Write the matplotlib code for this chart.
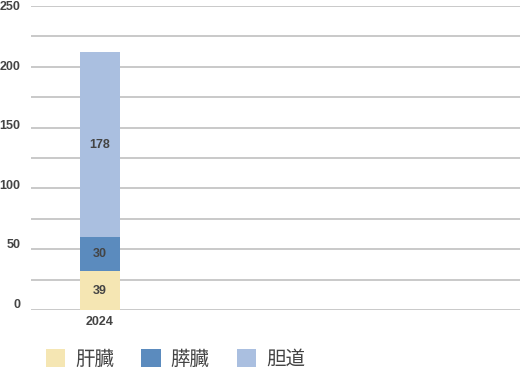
import numpy as np
import matplotlib
matplotlib.use("Agg")
import matplotlib.pyplot as plt
import matplotlib.transforms as mtransforms
from matplotlib.patches import Patch

# data (bar heights as drawn, labels as printed)
years = ["2024"]
series_names = ["肝臓", "膵臓", "胆道"]
heights = [[32], [28], [152]]
labels = [["39"], ["30"], ["178"]]
colors = ["#F5E6B3", "#5B8BBE", "#AABFE0"]
y_ticks = [0, 50, 100, 150, 200, 250]

TEXT = "#444444"
NUM_FONT = ["Liberation Sans", "DejaVu Sans"]

fig = plt.figure(figsize=(5.2, 3.7), dpi=100)
ax = fig.add_axes([31 / 520, 1 - 310 / 370, 489 / 520, 304 / 370])

x = np.arange(len(years))
bottom = np.zeros(len(years))
for name, h, lab, c in zip(series_names, heights, labels, colors):
    h = np.array(h, dtype=float)
    ax.bar(x, h, bottom=bottom, width=0.8, color=c, label=name, zorder=2)
    for xi, b, hi, t in zip(x, bottom, h, lab):
        ax.text(xi, b + hi / 2, t, ha="center", va="center", fontsize=9,
                fontweight="bold", color=TEXT, family=NUM_FONT, zorder=3)
    bottom += h

ax.set_xlim(-1.38, 8.4)
ax.set_ylim(0, 250)
ax.set_yticks(y_ticks)
ax.set_yticks(np.arange(25, 250, 50), minor=True)
ax.set_yticklabels([str(v) for v in y_ticks], family=NUM_FONT,
                   fontsize=9, fontweight="bold", color=TEXT)
ax.set_xticks(x)
ax.set_xticklabels(years, family=NUM_FONT, fontsize=9,
                   fontweight="bold", color=TEXT)
ax.tick_params(axis="both", which="both", length=0)
ax.tick_params(axis="y", pad=7.5)
ax.tick_params(axis="x", pad=4)
# labels drift above their grid lines toward the bottom in the reference
for v, lbl in zip(y_ticks, ax.get_yticklabels()):
    dy = 7 * (1 - v / 250) / 100
    shift = mtransforms.ScaledTranslation(0, dy, fig.dpi_scale_trans)
    lbl.set_transform(lbl.get_transform() + shift)
ax.grid(True, axis="y", which="both", color="#BBBBBB", linewidth=1.1, zorder=0)
ax.set_axisbelow(True)
for s in ax.spines.values():
    s.set_visible(False)

handles = [Patch(facecolor=c, edgecolor="none") for c in colors]
fig.legend(handles, series_names, loc="center left",
           bbox_to_anchor=(46 / 520, 1 - 359 / 370), ncol=3, frameon=False,
           prop={"family": ["Noto Sans CJK JP", "DejaVu Sans"], "size": 14},
           labelcolor=TEXT, handlelength=1.0, handleheight=1.0,
           handletextpad=0.5, columnspacing=1.4, borderpad=0, borderaxespad=0)

fig.savefig("out.png", dpi=100)
